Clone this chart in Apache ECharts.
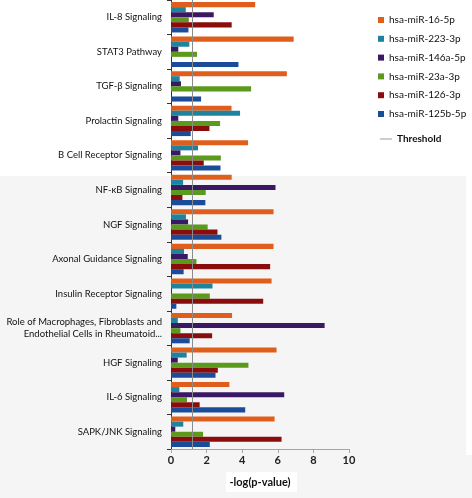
<!DOCTYPE html>
<html>
<head>
<meta charset="utf-8">
<script src="https://cdn.jsdelivr.net/npm/echarts@6/dist/echarts.min.js"></script>
<style>html,body{margin:0;padding:0;background:#fff}#c{width:472px;height:498px}</style>
</head>
<body>
<div id="c"></div>
<script>
const categories = ['IL-8 Signaling','STAT3 Pathway','TGF-β Signaling','Prolactin Signaling','B Cell Receptor Signaling','NF-κB Signaling','NGF Signaling','Axonal Guidance Signaling','Insulin Receptor Signaling','Role of Macrophages, Fibroblasts and Endothelial Cells in Rheumatoid...','HGF Signaling','IL-6 Signaling','SAPK/JNK Signaling'];
const seriesNames = ['hsa-miR-16-5p','hsa-miR-223-3p','hsa-miR-146a-5p','hsa-miR-23a-3p','hsa-miR-126-3p','hsa-miR-125b-5p'];
const miR16 =   [4.73,6.89,6.51,3.40,4.33,3.41,5.76,5.76,5.65,3.43,5.93,3.28,5.82];
const miR223 =  [0.83,1.03,0.49,3.88,1.52,0.68,0.84,0.73,2.33,0.38,0.88,0.47,0.69];
const miR146a = [2.40,0.41,0.56,0.41,0.53,5.87,0.96,0.94,0,   8.63,0.38,6.36,0.24];
const miR23a =  [1.00,1.46,4.50,2.76,2.80,1.95,2.06,1.43,2.18,0.53,4.35,0.90,1.80];
const miR126 =  [3.41,0,   0,   2.16,1.84,0.64,2.61,5.57,5.18,2.31,2.63,1.61,6.21];
const miR125b = [0.98,3.79,1.69,1.11,2.78,1.93,2.83,0.71,0.30,1.05,2.50,4.17,2.18];
const threshold = 1.2;
const xTicks = [0,2,4,6,8,10];

const colors = ['#E05E1B','#1E849E','#3A1863','#5B9A1D','#8A0D0D','#1B4C9A'];
const values = [miR16, miR223, miR146a, miR23a, miR126, miR125b];
const FONT = "Lato,'Liberation Sans',sans-serif";

const chart = echarts.init(document.getElementById('c'));
const series = seriesNames.map((n,i)=>({
  name:n, type:'bar', data:values[i], barGap:'0%', barCategoryGap:'12%',
  itemStyle:{color:colors[i]}, z:3
}));
series[0].markLine = {silent:true, symbol:'none', animation:false,
  lineStyle:{color:'#8c8c8c', width:1, type:'solid'}, label:{show:false},
  data:[{xAxis:threshold}], z:5};
series.push({name:'Threshold', type:'line', data:[], itemStyle:{color:'#9a9aa8'}, lineStyle:{color:'#9a9aa8'}});

chart.setOption({
  animation:false,
  backgroundColor:'#ffffff',
  graphic:[
    {type:'rect', z:-10, silent:true, shape:{x:0,y:176,width:466,height:322}, style:{fill:'#f5f5f5'}},
    {type:'rect', z:-10, silent:true, shape:{x:466,y:455,width:6,height:43}, style:{fill:'#f5f5f5'}},
    {type:'rect', z:-9, silent:true, shape:{x:226,y:472,width:71,height:20}, style:{fill:'#ffffff'}}
  ],
  grid:{left:171, right:123, top:0, bottom:49, containLabel:false, outerBoundsMode:'none'},
  legend:[{
    data:seriesNames, orient:'vertical', left:373, top:9, itemWidth:6, itemHeight:6, itemGap:6.8,
    icon:'rect', textStyle:{fontFamily:FONT, fontSize:10, color:'#111', lineHeight:12}
  },{
    data:[{name:'Threshold', icon:'rect'}], orient:'vertical', left:375, top:128, itemWidth:12, itemHeight:1,
    textStyle:{fontFamily:FONT, fontSize:10, fontWeight:'bold', color:'#111', lineHeight:12}
  }],
  xAxis:{
    type:'value', min:0, max:10, interval:2,
    name:'-log(p-value)', nameLocation:'middle', nameGap:28,
    nameTextStyle:{fontFamily:FONT, fontSize:11, fontWeight:'bold', color:'#111'},
    axisLine:{show:true, lineStyle:{color:'#a6a6a6'}},
    axisTick:{show:true, length:4, lineStyle:{color:'#a6a6a6'}},
    splitLine:{show:false},
    axisLabel:{fontFamily:FONT, fontSize:11, fontWeight:'bold', color:'#222', margin:6,
      formatter:v=>xTicks.includes(v)?String(v):''}
  },
  yAxis:{
    type:'category', data:categories, inverse:true,
    axisLine:{show:true, lineStyle:{color:'#333'}},
    axisTick:{show:true, length:4, lineStyle:{color:'#333'}},
    axisLabel:{fontFamily:FONT, fontSize:9.5, color:'#111', margin:9, align:'right', lineHeight:12,
      formatter:v=>v.replace(' and ',' and\n')}
  },
  series:series
});
</script>
</body>
</html>
